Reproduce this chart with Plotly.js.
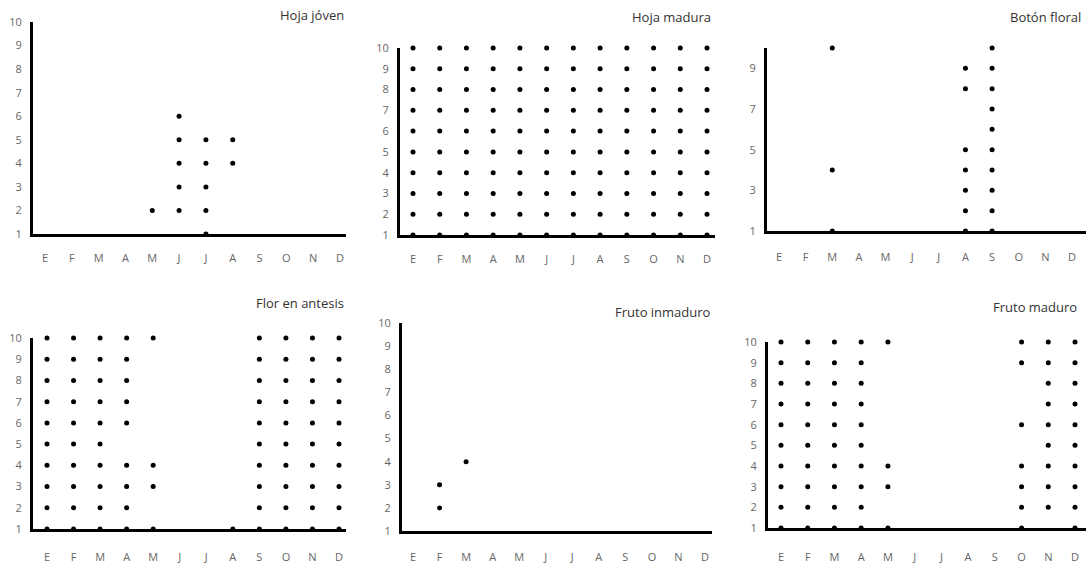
<!DOCTYPE html>
<html><head><meta charset="utf-8">
<script src="https://cdn.plot.ly/plotly-3.0.1.min.js"></script>
<style>html,body{margin:0;padding:0;background:#fff}#c{width:1090px;height:573px}</style>
</head><body><div id="c"></div>
<script>
var months = ["E","F","M","A","M","J","J","A","S","O","N","D"];
var titles = ["Hoja jóven","Hoja madura","Botón floral","Flor en antesis","Fruto inmaduro","Fruto maduro"];
var all10 = [1,2,3,4,5,6,7,8,9,10];
var hojaJoven = [[],[],[],[],[2],[2,3,4,5,6],[1,2,3,4,5],[4,5],[],[],[],[]];
var hojaMadura = [all10,all10,all10,all10,all10,all10,all10,all10,all10,all10,all10,all10];
var botonFloral = [[],[],[1,4,10],[],[],[],[],[1,2,3,4,5,8,9],[1,2,3,4,5,6,7,8,9,10],[],[],[]];
var florAntesis = [all10,all10,all10,[1,2,3,4,6,7,8,9,10],[1,3,4,10],[],[],[1],all10,all10,all10,all10];
var frutoInmaduro = [[],[2,3],[4],[],[],[],[],[],[],[],[],[]];
var frutoMaduro = [all10,all10,all10,all10,[1,3,4,10],[],[],[],[],[1,2,3,4,6,9,10],[2,3,4,5,6,7,8,9,10],all10];
var yTicks = [all10, all10, [1,3,5,7,9], all10, all10, all10];

var panelsData = [hojaJoven,hojaMadura,botonFloral,florAntesis,frutoInmaduro,frutoMaduro];
// pixel geometry: left, right, top(y=10), bottom(y=1), first month px, last month px, title right px, title y px, x tick gap
var geom = [
 [33,346,22,234,45,340,346,15,12],
 [400,715,48,235,413,707,713,17,12],
 [767,1086,48,231,779,1072,1083,17,14],
 [33,346,338,529,47,339,346,303,16],
 [402,712,323,531,413,705,713,312,14],
 [768,1086,342,528,781,1075,1079,307,17]
];
var W=1090,H=573;
var data=[], annotations=[];
var layout={width:W,height:H,margin:{l:0,r:0,t:0,b:0},paper_bgcolor:'#fff',plot_bgcolor:'rgba(0,0,0,0)',showlegend:false,annotations:annotations};
var fontFam='"Liberation Sans Narrow","Open Sans",sans-serif';
panelsData.forEach(function(p,i){
  var g=geom[i];
  var xs=[],ys=[];
  p.forEach(function(vals,m){vals.forEach(function(v){xs.push(m);ys.push(v);});});
  var sfx = i===0?'':String(i+1);
  data.push({type:'scatter',mode:'markers',x:xs,y:ys,xaxis:'x'+sfx,yaxis:'y'+sfx,cliponaxis:false,
    marker:{color:'#000',size:5}});
  var sp=(g[5]-g[4])/11;
  var x0=(g[0]-g[4])/sp, x1=11+(g[1]-g[5])/sp;
  layout['xaxis'+sfx]={domain:[g[0]/W,g[1]/W],range:[x0,x1],anchor:'y'+sfx,
    tickvals:[0,1,2,3,4,5,6,7,8,9,10,11],ticktext:months,showgrid:false,zeroline:false,
    showline:true,linecolor:'#000',linewidth:3,ticks:'outside',ticklen:g[8],tickcolor:'rgba(0,0,0,0)',
    tickfont:{family:fontFam,size:11,color:'#666'},fixedrange:true};
  layout['yaxis'+sfx]={domain:[1-g[3]/H,1-g[2]/H],range:[1,10],anchor:'x'+sfx,
    tickvals:yTicks[i],showgrid:false,zeroline:false,showline:true,linecolor:'#000',linewidth:3,
    ticks:'outside',ticklen:6,tickcolor:'rgba(0,0,0,0)',
    tickfont:{family:fontFam,size:11,color:'#666'},fixedrange:true};
  annotations.push({text:titles[i],xref:'paper',yref:'paper',x:g[6]/W,y:1-g[7]/H,xanchor:'right',yanchor:'middle',
    showarrow:false,font:{family:fontFam,size:13,color:'#333'}});
});
Plotly.newPlot('c',data,layout,{displayModeBar:false,staticPlot:true});
</script></body></html>
